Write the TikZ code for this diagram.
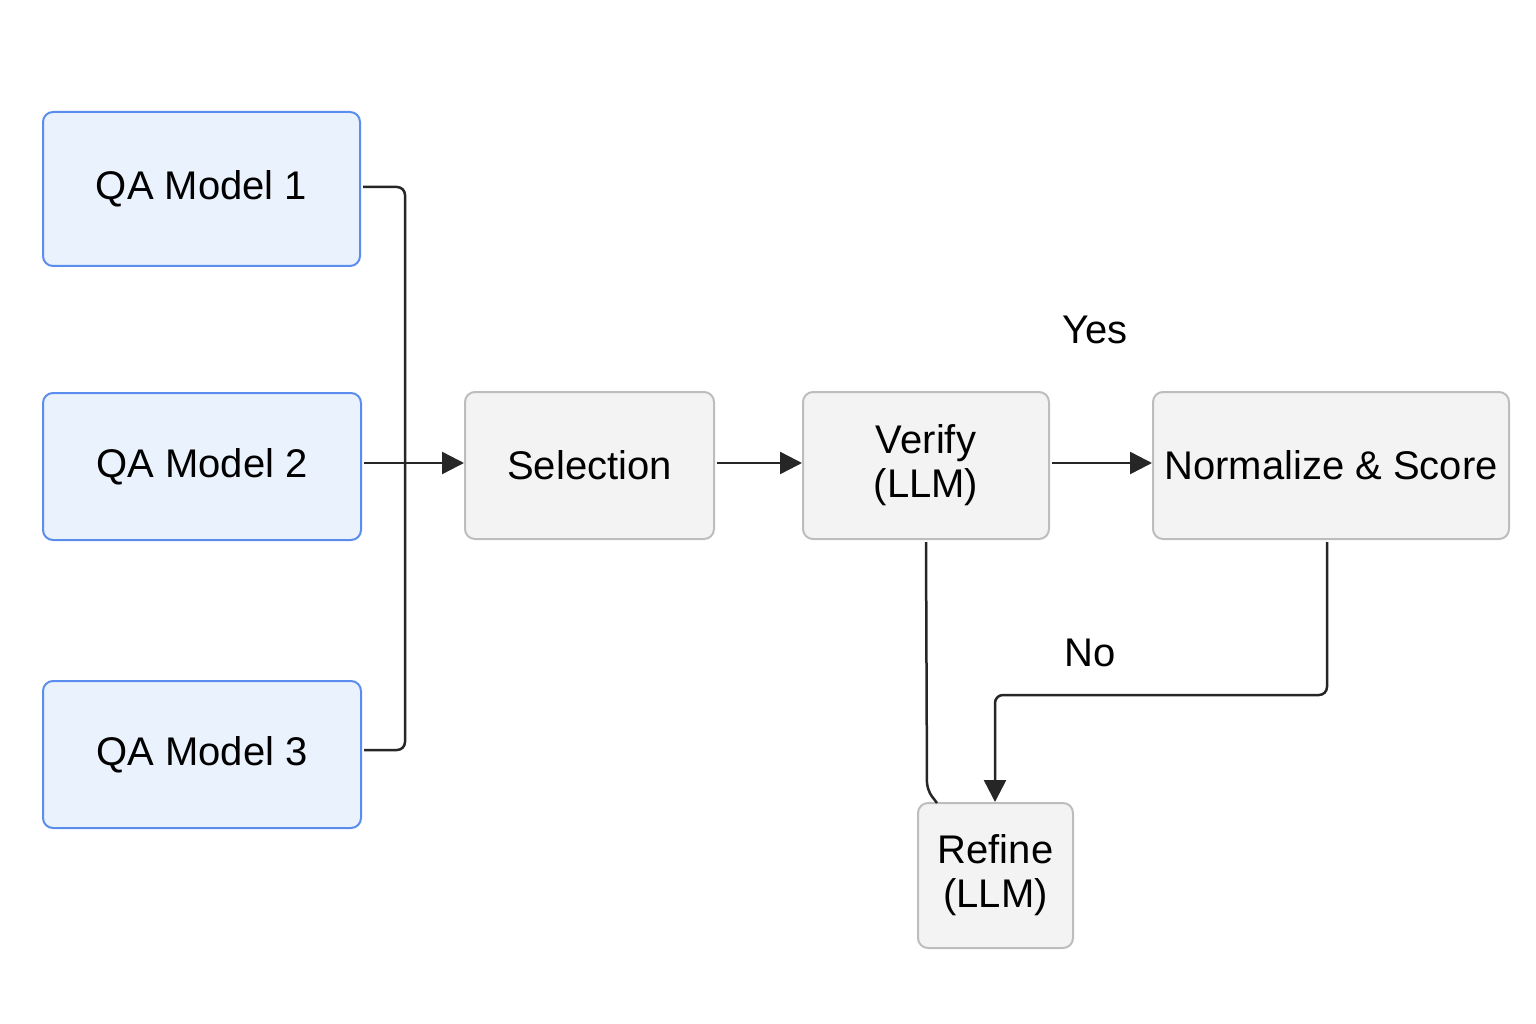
\documentclass[tikz,border=0pt]{standalone}
\usepackage{fontspec}
\setmainfont{Liberation Sans}
\usetikzlibrary{arrows.meta}
\definecolor{bfill}{HTML}{EAF3FD}
\definecolor{bdraw}{HTML}{5B8DEF}
\definecolor{gfill}{HTML}{F3F3F3}
\definecolor{gdraw}{HTML}{BDBDBD}
\begin{document}
\begin{tikzpicture}[x=1pt,y=-1pt,
  box/.style={draw, line width=2pt, rounded corners=10pt, font=\fontsize{40}{44}\selectfont, align=center, inner sep=0pt},
  qa/.style={box, fill=bfill, draw=bdraw},
  gb/.style={box, fill=gfill, draw=gdraw},
  con/.style={line width=2.5pt, draw=black!85, rounded corners=8pt},
  arr/.style={con, -{Triangle[length=22pt,width=22pt]}},
  lab/.style={font=\fontsize{40}{44}\selectfont}]
\useasboundingbox (0,0) rectangle (1536,1024);
\node[qa, minimum width=317pt, minimum height=154pt] (q1) at (201.5,189) {QA Model 1};
\node[qa, minimum width=318pt, minimum height=147pt] (q2) at (202,466.5) {QA Model 2};
\node[qa, minimum width=318pt, minimum height=147pt] (q3) at (202,754.5) {QA Model 3};
\node[gb, minimum width=249pt, minimum height=147pt] (sel) at (589.5,465.5) {Selection};
\node[gb, minimum width=246pt, minimum height=147pt] (ver) at (926,465.5) {Verify\\(LLM)};
\node[gb, minimum width=356pt, minimum height=147pt] (nor) at (1331,465.5) {Normalize \& Score};
\node[gb, minimum width=155pt, minimum height=145pt] (ref) at (995.5,875.5) {Refine\\(LLM)};
\coordinate (bus) at (405,463);
\draw[con] ([xshift=2pt]q1.east |- 0,187) -- (405,187) -- (405,750) -- ([xshift=2pt]q3.east |- 0,750);
\draw[arr] ([xshift=2pt]q2.east |- bus) -- (sel.west |- bus);
\draw[arr] ([xshift=2pt]sel.east |- bus) -- (ver.west |- bus);
\draw[arr] ([xshift=2pt]ver.east |- bus) -- (nor.west |- bus);
\draw[con] ([yshift=-2pt]ver.south) -- (927,790) -- (937,803);
\draw[arr] ([yshift=-2pt]nor.south -| 1327,0) -- (1327,695) -- (995,695) -- (ref.north -| 995,0);
\node[lab] (yes) at (1095,330) {Yes};
\node[lab] (no) at (1090,653) {No};
\end{tikzpicture}
\end{document}
